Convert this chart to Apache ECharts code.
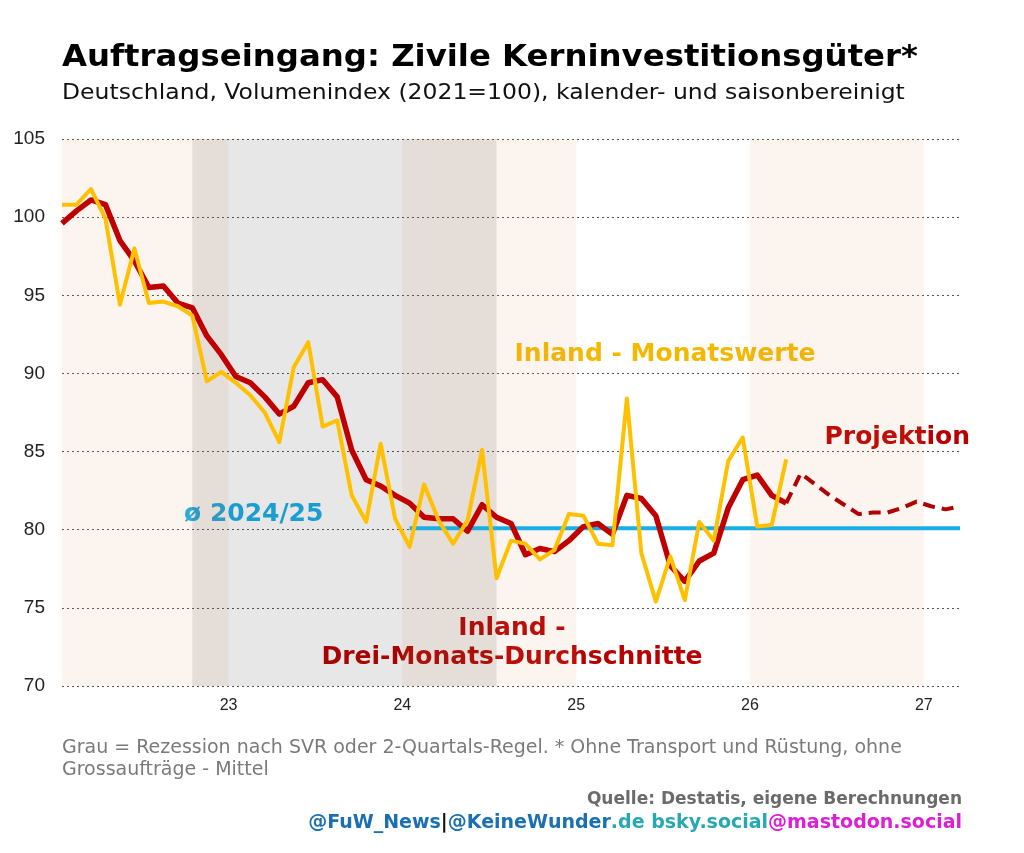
<!DOCTYPE html>
<html>
<head>
<meta charset="utf-8">
<title>Auftragseingang: Zivile Kerninvestitionsgüter</title>
<script src="https://cdn.jsdelivr.net/npm/echarts@6/dist/echarts.min.js"></script>
<style>
    html, body { margin: 0; padding: 0; background: #fff; }
    #chart { width: 1024px; height: 853px; }
</style>
</head>
<body>
<div id="chart"></div>
<script>
// Monatswerte ab Jan 2022 (Index 0) bis Mär 2026
var inlandMonthly = [
    100.8, 100.8, 101.8, 99.9, 94.4, 98.0, 94.5, 94.6, 94.3, 93.7, 89.5, 90.1,
    89.4, 88.6, 87.5, 85.6, 90.4, 92.0, 86.6, 87.0, 82.2, 80.5, 85.5, 80.7,
    78.9, 82.9, 80.6, 79.1, 80.6, 85.1, 76.9, 79.3, 79.1, 78.1, 78.7, 81.0,
    80.9, 79.1, 79.0, 88.4, 78.5, 75.4, 78.3, 75.5, 80.5, 79.3, 84.4, 85.9,
    80.2, 80.3, 84.5
];
// Drei-Monats-Durchschnitte, gleicher Zeitraum
var inlandAvg3 = [
    99.6, 100.4, 101.1, 100.8, 98.5, 97.2, 95.5, 95.6, 94.5, 94.2, 92.4, 91.2,
    89.8, 89.4, 88.5, 87.4, 87.9, 89.4, 89.6, 88.5, 85.1, 83.2, 82.8, 82.2,
    81.7, 80.8, 80.7, 80.7, 79.9, 81.6, 80.8, 80.4, 78.4, 78.8, 78.6, 79.3,
    80.2, 80.4, 79.7, 82.2, 82.0, 80.9, 77.7, 76.7, 78.0, 78.5, 81.4, 83.2,
    83.5, 82.2, 81.7
];
// Projektion ab Mär 2026 (Index 50) bis Mär 2027 (Index 62)
var projectionStart = 50;
var projection = [81.7, 83.6, 82.9, 82.2, 81.6, 81.0, 81.1, 81.1, 81.4, 81.8, 81.5, 81.3, 81.5];
// Durchschnitt 2024/25, ab Jan 2024 (Index 24)
var averageStart = 24;
var averageEnd = 62;
var averageLevel = 80.1;

// Hintergrund: Jahre (in Monaten seit Jan 2022) und Rezession
var shadedYears = [[0.5, 12], [24, 36], [48, 60]];
var recession = [[9.5, 30.5]];
var yearTicks = [12, 24, 36, 48, 60];
var yearLabels = ['23', '24', '25', '26', '27'];

function toPoints(values, start) {
    return values.map(function (v, i) {
        return [start + i + 0.5, v];
    });
}

var avgLine = [];
for (var k = averageStart; k <= averageEnd; k++) {
    avgLine.push([k + 0.5, averageLevel]);
}

var bands = [];
shadedYears.forEach(function (b) {
    bands.push([{xAxis: b[0], itemStyle: {color: 'rgba(225,145,95,0.1)'}}, {xAxis: b[1]}]);
});
recession.forEach(function (b) {
    bands.push([{xAxis: b[0], itemStyle: {color: 'rgba(25,25,30,0.105)'}}, {xAxis: b[1]}]);
});

var chart = echarts.init(document.getElementById('chart'));
var sans = '"DejaVu Sans", Verdana, sans-serif';
var axisFont = '"Liberation Sans", Arial, sans-serif';

var option = {
    animation: false,
    backgroundColor: '#fff',
    grid: {left: 62, right: 64, top: 139, bottom: 167},
    xAxis: {
        type: 'value',
        min: 0.5,
        max: 62.5,
        axisLine: {show: false},
        axisTick: {show: false},
        splitLine: {show: false},
        axisLabel: {
            customValues: yearTicks,
            formatter: function (v) {
                return yearLabels[yearTicks.indexOf(v)];
            },
            fontSize: 16,
            color: '#222',
            fontFamily: axisFont,
            margin: 12
        }
    },
    yAxis: {
        type: 'value',
        min: 70,
        max: 105,
        interval: 5,
        axisLine: {show: false},
        axisTick: {show: false},
        axisLabel: {fontSize: 19, color: '#222', fontFamily: axisFont, margin: 17},
        splitLine: {lineStyle: {color: '#555', width: 1, type: [2, 3]}}
    },
    series: [
        {
            name: 'bands',
            type: 'line',
            data: [],
            silent: true,
            markArea: {silent: true, data: bands}
        },
        {
            name: 'Ø 2024/25',
            type: 'line',
            data: avgLine,
            symbol: 'none',
            lineStyle: {color: '#1aaee6', width: 4}
        },
        {
            name: 'Inland - Drei-Monats-Durchschnitte',
            type: 'line',
            data: toPoints(inlandAvg3, 0),
            symbol: 'none',
            lineStyle: {color: '#c00000', width: 5.5, join: 'round'}
        },
        {
            name: 'Projektion',
            type: 'line',
            data: toPoints(projection, projectionStart),
            symbol: 'none',
            lineStyle: {color: '#b00000', width: 4, type: [12, 7]}
        },
        {
            name: 'Inland - Monatswerte',
            type: 'line',
            data: toPoints(inlandMonthly, 0),
            symbol: 'none',
            lineStyle: {color: '#ffc000', width: 4, join: 'round'}
        }
    ],
    graphic: [
        {
            type: 'text', x: 62, y: 58, scaleX: 1.078,
            style: {text: 'Auftragseingang: Zivile Kerninvestitionsgüter*', font: 'bold 30px ' + sans, fill: '#000', verticalAlign: 'middle'}
        },
        {
            type: 'text', x: 62, y: 93, scaleX: 1.068,
            style: {text: 'Deutschland, Volumenindex (2021=100), kalender- und saisonbereinigt', font: '22px ' + sans, fill: '#111', verticalAlign: 'middle'}
        },
        {
            type: 'text', x: 665, y: 354,
            style: {text: 'Inland - Monatswerte', font: 'bold 25px ' + sans, fill: '#f5b800', align: 'center', verticalAlign: 'middle'}
        },
        {
            type: 'text', x: 970, y: 437,
            style: {text: 'Projektion', font: 'bold 25px ' + sans, fill: '#b80000', align: 'right', verticalAlign: 'middle'}
        },
        {
            type: 'text', x: 184, y: 514,
            style: {text: 'ø 2024/25', font: 'bold 25px ' + sans, fill: '#1aaee6', align: 'left', verticalAlign: 'middle'}
        },
        {
            type: 'text', x: 512, y: 643,
            style: {text: 'Inland -\nDrei-Monats-Durchschnitte', font: 'bold 25px ' + sans, lineHeight: 29, fill: '#b80000', align: 'center', verticalAlign: 'middle'}
        },
        {
            type: 'text', x: 62, y: 759,
            style: {
                text: 'Grau = Rezession nach SVR oder 2-Quartals-Regel. * Ohne Transport und Rüstung, ohne\nGrossaufträge - Mittel',
                font: '19px ' + sans, lineHeight: 22, fill: '#7a7a7a', verticalAlign: 'middle'
            }
        },
        {
            type: 'text', x: 962, y: 800,
            style: {text: 'Quelle: Destatis, eigene Berechnungen', font: 'bold 17px ' + sans, fill: '#6b6b6b', align: 'right', verticalAlign: 'middle'}
        },
        {
            type: 'text', x: 962, y: 823,
            style: {
                text: '{a|@FuW_News}{b||}{a|@KeineWunder}{c|.de bsky.social}{d|@mastodon.social}',
                align: 'right', verticalAlign: 'middle',
                rich: {
                    a: {font: 'bold 19px ' + sans, fill: '#1b6fb3'},
                    b: {font: 'bold 19px ' + sans, fill: '#111'},
                    c: {font: 'bold 19px ' + sans, fill: '#27a9b4'},
                    d: {font: 'bold 19px ' + sans, fill: '#dc1ed6'}
                }
            }
        }
    ]
};

option && chart.setOption(option);
</script>
</body>
</html>
